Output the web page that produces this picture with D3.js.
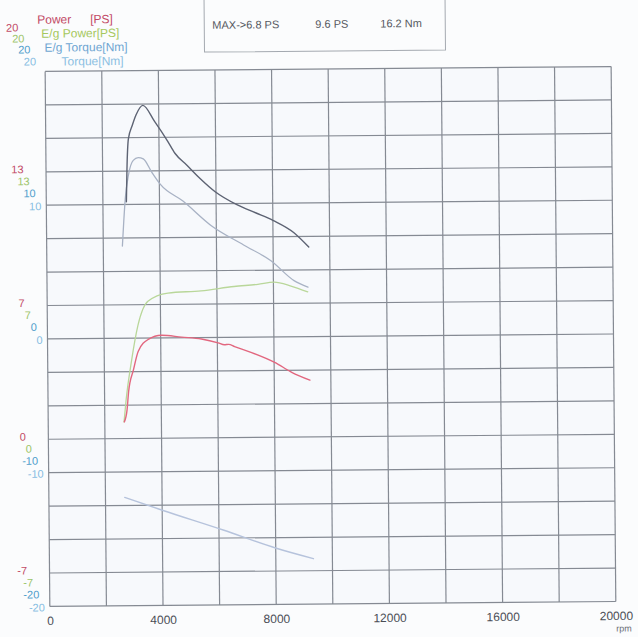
<!DOCTYPE html>
<html><head><meta charset="utf-8">
<script src="https://cdn.jsdelivr.net/npm/d3@7"></script>
<style>html,body{margin:0;padding:0;background:#fbfcfd;}svg{display:block;}</style>
</head><body>
<svg id="c" width="638" height="637"></svg>
<script>
// ---- data ----
const xTickValues = [0, 4000, 8000, 12000, 16000, 20000];
const xTickLabels = ["0", "4000", "8000", "12000", "16000", "20000"];
const torqueTickValues = [20, 10, 0, -10, -20];
const powerTickValues = [20, 40/3, 20/3, 0, -20/3];
const legendLabels = ["Power", "E/g Power[PS]", "E/g Torque[Nm]", "Torque[Nm]"];
const maxLabels = ["MAX->6.8 PS", "9.6 PS", "16.2 Nm"];

// E/g torque (upper dark curve) [Nm]
const egTorqueRpm = [2830, 2860, 2920, 3060, 3200, 3440, 3850, 4310, 4560, 4980, 5440, 5970, 6750, 7390, 8020, 8730, 9260];
const egTorqueNm  = [10.2, 12.6, 14.9, 15.9, 16.7, 17.4, 16.2, 14.7, 13.8, 12.9, 11.9, 10.9, 9.9, 9.3, 8.7, 7.8, 6.7];
// Torque (lower light curve) [Nm]
const torqueRpm = [2675, 2730, 2790, 2910, 3085, 3260, 3440, 3735, 4030, 4840, 5800, 6960, 7920, 8730, 9220];
const torqueNm  = [6.9, 8.7, 10.4, 12.2, 13.3, 13.5, 13.4, 12.4, 11.5, 10.2, 8.4, 6.9, 5.7, 4.2, 3.7];
// E/g power (green) [PS]
const egPowerRpm = [2680, 2760, 2970, 3200, 3560, 4270, 5440, 6610, 7450, 8020, 8620, 9210];
const egPowerPS  = [2.5, 3.6, 5.6, 7.3, 8.5, 8.9, 9.0, 9.2, 9.3, 9.4, 9.2, 8.9];
// Power (red) [PS]
const powerRpm = [2690, 2790, 2850, 3030, 3200, 3560, 4030, 4740, 5440, 6030, 6250, 6400, 6610, 7210, 8020, 8620, 9260];
const powerPS  = [2.5, 3.1, 4.0, 5.1, 6.0, 6.6, 6.8, 6.7, 6.6, 6.4, 6.3, 6.32, 6.2, 5.9, 5.4, 4.9, 4.5];
// lower straight light trace [Nm]
const lossRpm = [2680, 4030, 6150, 8020, 9330];
const lossNm  = [-11.9, -12.9, -14.4, -15.8, -16.6];

// ---- layout ----
const L = 47.5, R = 613.5, T = 69, B = 604;
const svg = d3.select("#c");
svg.append("rect").attr("width", 638).attr("height", 637).attr("fill", "#fbfcfd");
const g = svg.append("g").attr("transform", "rotate(-0.5,329,339)");

const x = d3.scaleLinear().domain([0, 20000]).range([L, R]);
const yT = d3.scaleLinear().domain([-20, 20]).range([B, T]);
const yP = d3.scaleLinear().domain([-20/3, 20]).range([B, T]);

g.append("rect").attr("x", L).attr("y", T).attr("width", R - L).attr("height", B - T).attr("fill", "#f7f9fc");

// grid
const gridColor = "#858a93";
g.append("g").selectAll("line").data(d3.range(0, 20001, 2000)).join("line")
  .attr("x1", d => x(d)).attr("x2", d => x(d)).attr("y1", T).attr("y2", B)
  .attr("stroke", gridColor).attr("stroke-width", 1.2);
g.append("g").selectAll("line").data(d3.range(-20, 20.01, 2.5)).join("line")
  .attr("x1", L).attr("x2", R).attr("y1", d => yT(d)).attr("y2", d => yT(d))
  .attr("stroke", gridColor).attr("stroke-width", 1.2);

// x axis labels
const xAxis = d3.axisBottom(x).tickValues(xTickValues).tickFormat((d, i) => xTickLabels[i]).tickSize(0).tickPadding(0);
const ax = g.append("g").attr("transform", `translate(0,${B + 10})`).call(xAxis);
ax.select(".domain").remove();
ax.selectAll("text").attr("font-family", "Liberation Sans, Arial, sans-serif").attr("font-size", 12).attr("fill", "#4a4d55");
g.append("text").attr("x", x(20000) + 8).attr("y", B + 30).attr("text-anchor", "middle")
  .attr("font-family", "Liberation Sans, Arial, sans-serif").attr("font-size", 9).attr("fill", "#6a6d75").text("rpm");

// left stacked tick labels
const tickColors = ["#c24a66", "#9cc46a", "#4f9ccb", "#86bde2"];
const tickRight = [25, 31, 37, 42.5];
const fmtP = v => String(Math.round(v));
torqueTickValues.forEach((tv, gi) => {
  const yg = yT(tv);
  const offs = gi === 0 ? [-44, -33, -22, -10] : [-36, -24, -12, 1];
  const dx = gi === 0 ? -4 : 0;
  const texts = [fmtP(powerTickValues[gi]), fmtP(powerTickValues[gi]), String(tv), String(tv)];
  texts.forEach((t, k) => {
    g.append("text").attr("x", tickRight[k] + dx).attr("y", yg + offs[k]).attr("dy", "0.35em")
      .attr("text-anchor", "end").attr("font-family", "Liberation Sans, Arial, sans-serif")
      .attr("font-size", 11).attr("fill", tickColors[k]).text(t);
  });
});

// legend
const lf = "Liberation Sans, Arial, sans-serif";
const leg = g.append("g").attr("font-family", lf).attr("font-size", 12);
leg.append("text").attr("x", 40).attr("y", 17).attr("dy", "0.35em").attr("fill", tickColors[0]).text(legendLabels[0]);
leg.append("text").attr("x", 93).attr("y", 17).attr("dy", "0.35em").attr("fill", tickColors[0]).text("[PS]");
leg.append("text").attr("x", 44).attr("y", 31).attr("dy", "0.35em").attr("fill", "#a6c85e").text(legendLabels[1]);
leg.append("text").attr("x", 47).attr("y", 45).attr("dy", "0.35em").attr("fill", "#6fa6d2").text(legendLabels[2]);
leg.append("text").attr("x", 64).attr("y", 59).attr("dy", "0.35em").attr("fill", "#8cc0e2").text(legendLabels[3]);

// max box
g.append("path").attr("d", "M207,-2V51H448V-2").attr("fill", "none").attr("stroke", "#a4a9b0").attr("stroke-width", 1);
const mx = [215, 318, 383];
maxLabels.forEach((t, i) => {
  g.append("text").attr("x", mx[i]).attr("y", 24).attr("dy", "0.35em")
    .attr("font-family", lf).attr("font-size", 11).attr("fill", "#55585f").text(t);
});

// curves
function curve(rpm, vals, ys, color, w) {
  const pts = rpm.map((r, i) => [r, vals[i]]);
  const line = d3.line().x(d => x(d[0])).y(d => ys(d[1])).curve(d3.curveMonotoneX);
  g.append("path").attr("d", line(pts)).attr("fill", "none").attr("stroke", color)
    .attr("stroke-width", w).attr("stroke-linejoin", "round").attr("stroke-linecap", "round");
}
curve(lossRpm, lossNm, yT, "#b6c3dc", 1.4);
curve(torqueRpm, torqueNm, yT, "#a8b2c4", 1.3);
curve(egTorqueRpm, egTorqueNm, yT, "#5d6373", 1.4);
curve(egPowerRpm, egPowerPS, yP, "#b9d79a", 1.3);
curve(powerRpm, powerPS, yP, "#e2677f", 1.4);
</script>
</body></html>
